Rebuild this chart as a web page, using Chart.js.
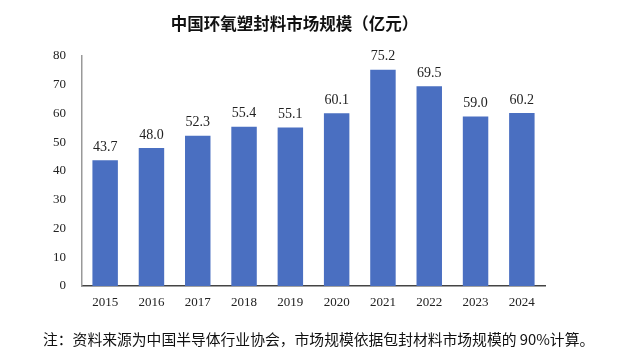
<!DOCTYPE html>
<html>
<head>
<meta charset="utf-8">
<script src="https://cdn.jsdelivr.net/npm/chart.js@4.4.0/dist/chart.umd.min.js"></script>
<style>
  body { margin: 0; background: #fff; }
  #wrap { position: relative; width: 640px; height: 354px; }
  #titulo { position: absolute; left: 0; top: 11px; width: 589px; text-align: center;
    font-family: "Noto Sans CJK SC", sans-serif; font-size: 16.5px; font-weight: bold; color: #111; }
  #nota { position: absolute; left: 43px; top: 328px; white-space: nowrap;
    font-family: "Noto Sans CJK SC", sans-serif; font-size: 14.8px; color: #111; }
  canvas { position: absolute; left: 0; top: 0; }
</style>
</head>
<body>
<div id="wrap">
  <canvas id="grafica" width="640" height="354"></canvas>
  <div id="titulo">中国环氧塑封料市场规模（亿元）</div>
  <div id="nota">注：资料来源为中国半导体行业协会，市场规模依据包封材料市场规模的 90%计算。</div>
</div>
<script>
const anios = ['2015', '2016', '2017', '2018', '2019', '2020', '2021', '2022', '2023', '2024'];
const valores = [43.7, 48.0, 52.3, 55.4, 55.1, 60.1, 75.2, 69.5, 59.0, 60.2];
const ejeY = [0, 10, 20, 30, 40, 50, 60, 70, 80];

// etiquetas encima de cada barra
const etiquetas = {
  id: 'etiquetas',
  afterDatasetsDraw(chart) {
    const ctx = chart.ctx;
    const meta = chart.getDatasetMeta(0);
    ctx.save();
    ctx.font = '14px "Liberation Serif", serif';
    ctx.fillStyle = '#222';
    ctx.textAlign = 'center';
    ctx.textBaseline = 'bottom';
    meta.data.forEach((bar, i) => {
      ctx.fillText(valores[i].toFixed(1), bar.x, bar.y - 6);
    });
    ctx.restore();
  }
};

new Chart(document.getElementById('grafica'), {
  type: 'bar',
  data: {
    labels: anios,
    datasets: [{
      data: valores,
      backgroundColor: '#4a6fc1',
      barPercentage: 0.55,
      categoryPercentage: 1
    }]
  },
  options: {
    responsive: false,
    animation: false,
    layout: { padding: { top: 56, right: 95, bottom: 38, left: 0 } },
    plugins: { legend: { display: false }, tooltip: { enabled: false } },
    scales: {
      x: {
        grid: { display: false, drawTicks: false },
        border: { display: true, color: '#444', width: 1.5 },
        ticks: { color: '#222', padding: 9, font: { family: '"Liberation Serif", serif', size: 13 } },
        afterFit: s => { s.height = 30; }
      },
      y: {
        min: ejeY[0],
        max: ejeY[ejeY.length - 1],
        afterBuildTicks: s => { s.ticks = ejeY.map(v => ({ value: v })); },
        grid: { display: false, drawTicks: false },
        border: { display: true, color: '#999', width: 1.5 },
        ticks: { color: '#222', padding: 16, font: { family: '"Liberation Serif", serif', size: 13 } },
        afterFit: s => { s.width = 82; }
      }
    }
  },
  plugins: [etiquetas]
});
</script>
</body>
</html>
